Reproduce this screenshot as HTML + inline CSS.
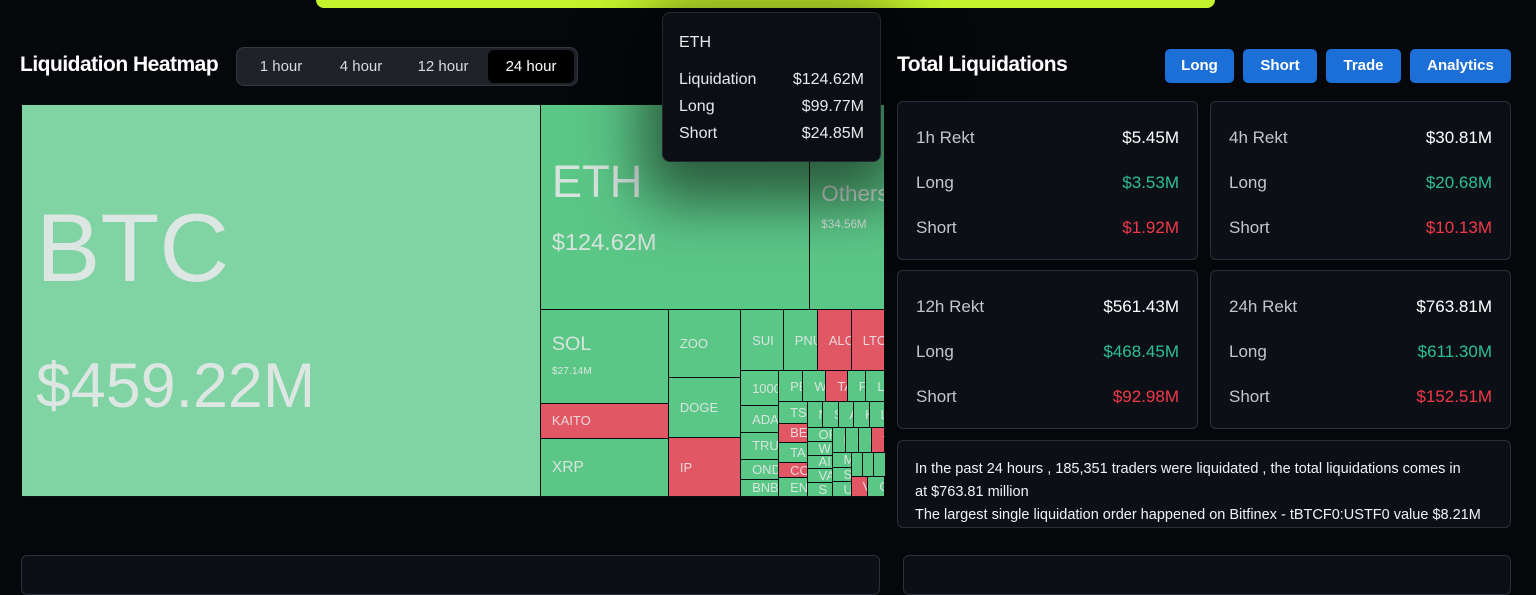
<!DOCTYPE html>
<html><head><meta charset="utf-8">
<style>
*{box-sizing:border-box;margin:0;padding:0}
body{width:1536px;height:562px;background:#05070b;font-family:"Liberation Sans",sans-serif;color:#e6e8eb;position:relative;overflow:hidden}
.abs{position:absolute}
.seg{left:236px;top:47px;width:342px;height:39px;background:#1f2229;border:1px solid #33373f;border-radius:8px}
.seg span{position:absolute;top:2px;height:33px;line-height:33px;font-size:15px;color:#d8dade;text-align:center}
.btn{top:49px;height:34px;line-height:34px;background:#1b6fd6;color:#fff;font-weight:bold;font-size:15px;text-align:center;border-radius:5px}
.card{background:#0c1016;border:1px solid #2b3038;border-radius:6px}
.row{position:absolute;left:18px;right:18px;font-size:17px;display:flex;justify-content:space-between}
.row .l{color:#c3c7cd}
.cell{position:absolute;border:1px solid #0a0c10;overflow:hidden;white-space:nowrap;display:flex;flex-direction:column;justify-content:center;color:rgba(232,232,235,.88)}
</style></head><body>
<div class="abs" style="left:316px;top:-10px;width:899px;height:18px;background:#c4f22c;border-radius:8px"></div>

<div class="abs" style="left:20px;top:53px;font-size:21px;font-weight:bold;letter-spacing:-0.5px;color:#fff">Liquidation Heatmap</div>
<div class="abs seg">
<span style="left:4px;width:80px">1 hour</span>
<span style="left:84px;width:80px">4 hour</span>
<span style="left:164px;width:84px">12 hour</span>
<span style="left:251px;width:86px;background:#000;border-radius:6px;color:#fff">24 hour</span>
</div>

<div class="abs" id="treemap" style="left:21px;top:104px;width:863px;height:392px"></div>

<div class="abs" style="left:662px;top:12px;width:219px;height:150px;background:#0b0e13;border:1px solid #23272e;border-radius:8px;box-shadow:0 20px 60px 20px rgba(0,0,0,.55);font-size:16px">
<div class="abs" style="left:16px;top:21px;color:#e6e8eb">ETH</div>
<div class="abs" style="left:16px;right:16px;top:58px;display:flex;justify-content:space-between"><span>Liquidation</span><span>$124.62M</span></div>
<div class="abs" style="left:16px;right:16px;top:85px;display:flex;justify-content:space-between"><span>Long</span><span>$99.77M</span></div>
<div class="abs" style="left:16px;right:16px;top:112px;display:flex;justify-content:space-between"><span>Short</span><span>$24.85M</span></div>
</div>

<div class="abs" style="left:897px;top:53px;font-size:21px;font-weight:bold;letter-spacing:-0.5px;color:#fff">Total Liquidations</div>
<div class="abs btn" style="left:1165px;width:69px">Long</div>
<div class="abs btn" style="left:1243px;width:74px">Short</div>
<div class="abs btn" style="left:1326px;width:75px">Trade</div>
<div class="abs btn" style="left:1410px;width:101px">Analytics</div>

<div class="abs card" style="left:897px;top:101px;width:301px;height:159px">
<div class="row" style="top:26px"><span class="l">1h Rekt</span><span style="color:#fff">$5.45M</span></div>
<div class="row" style="top:71px"><span class="l">Long</span><span style="color:#2ebf94">$3.53M</span></div>
<div class="row" style="top:116px"><span class="l">Short</span><span style="color:#f2394a">$1.92M</span></div>
</div>
<div class="abs card" style="left:1210px;top:101px;width:301px;height:159px">
<div class="row" style="top:26px"><span class="l">4h Rekt</span><span style="color:#fff">$30.81M</span></div>
<div class="row" style="top:71px"><span class="l">Long</span><span style="color:#2ebf94">$20.68M</span></div>
<div class="row" style="top:116px"><span class="l">Short</span><span style="color:#f2394a">$10.13M</span></div>
</div>
<div class="abs card" style="left:897px;top:270px;width:301px;height:159px">
<div class="row" style="top:26px"><span class="l">12h Rekt</span><span style="color:#fff">$561.43M</span></div>
<div class="row" style="top:71px"><span class="l">Long</span><span style="color:#2ebf94">$468.45M</span></div>
<div class="row" style="top:116px"><span class="l">Short</span><span style="color:#f2394a">$92.98M</span></div>
</div>
<div class="abs card" style="left:1210px;top:270px;width:301px;height:159px">
<div class="row" style="top:26px"><span class="l">24h Rekt</span><span style="color:#fff">$763.81M</span></div>
<div class="row" style="top:71px"><span class="l">Long</span><span style="color:#2ebf94">$611.30M</span></div>
<div class="row" style="top:116px"><span class="l">Short</span><span style="color:#f2394a">$152.51M</span></div>
</div>
<div class="abs card" style="left:897px;top:440px;width:614px;height:88px;font-size:14.5px;line-height:23px;padding:17px 0 0 17px;color:#f0f1f3">
In the past 24 hours , 185,351 traders were liquidated , the total liquidations comes in<br>at $763.81 million<br>The largest single liquidation order happened on Bitfinex - tBTCF0:USTF0 value $8.21M
</div>
<div class="abs card" style="left:21px;top:555px;width:859px;height:40px"></div>
<div class="abs card" style="left:903px;top:555px;width:608px;height:40px"></div>

<script>
const coinNames=["BTC","ETH","Others","SOL","KAITO","XRP","ZOO","DOGE","IP","SUI","PNUT","ALCH","LTC","1000PEPE","ADA","TRUMP","ONDO","BNB","PEOPLE","WIF","TAO","FARTCOIN","LINK","TST","BERA","TAI","COOKIE","ENA","NEAR","SHELL","AVAX","KAS","LDO","OP","WLD","AIXBT","VANA","S","HBAR","IO","MKR","TIA","MELANIA","SUIAI","UNI","XLM","DOT","AAVE","VINE","GRASS"];
const coinValues=[459.22,124.62,34.56,27.14,10.1,16.8,11.1,9.8,9.6,5.9,4.7,4.7,4.6,3.0,2.3,2.3,1.7,1.5,1.7,1.6,1.5,1.3,1.3,1.4,1.2,1.3,1.0,1.2,0.9,0.9,0.9,0.9,0.9,0.78,0.78,0.78,0.78,0.78,0.75,0.75,0.75,0.75,0.63,0.63,0.63,0.6,0.6,0.6,0.75,0.75];
const shortDominant=[0,0,0,0,1,0,0,0,1,0,0,1,1,0,0,0,0,0,0,0,1,0,0,0,1,0,1,0,0,0,0,0,0,0,0,0,0,0,0,0,0,1,0,0,0,0,0,0,1,0];
const displayValues={0:"$459.22M",1:"$124.62M",2:"$34.56M",3:"$27.14M"};
const hovered=0;
function r(a,b){const o=[];for(let i=a;i<=b;i++)o.push(i);return o;}
const tree={d:'h',c:[0,{d:'v',c:[{d:'h',c:[1,2]},{d:'h',c:[{d:'v',c:[3,4,5]},{d:'v',c:[6,7,8]},{d:'v',c:[{d:'h',c:r(9,12)},{d:'h',c:[{d:'v',c:r(13,17)},{d:'v',c:[{d:'h',c:r(18,22)},{d:'h',c:[{d:'v',c:r(23,27)},{d:'v',c:[{d:'h',c:r(28,32)},{d:'h',c:[{d:'v',c:r(33,37)},{d:'v',c:[{d:'h',c:r(38,41)},{d:'h',c:[{d:'v',c:r(42,44)},{d:'v',c:[{d:'h',c:r(45,47)},{d:'h',c:[48,49]}]}]}]}]}]}]}]}]}]}]}]}]};
function sum(n){return typeof n==='number'?coinValues[n]:n.c.reduce((s,c)=>s+sum(c),0);}
const root=document.getElementById('treemap');
function layout(n,x,y,w,h){
  if(typeof n==='number'){draw(n,x,y,w,h);return;}
  const t=sum(n);let off=0;
  n.c.forEach(c=>{const f=sum(c)/t;
    if(n.d==='h'){layout(c,x+off,y,w*f,h);off+=w*f;}
    else{layout(c,x,y+off,w,h*f);off+=h*f;}});
}
function draw(i,x,y,w,h){
  const d=document.createElement('div');
  d.className='cell';
  
  
  d.style.left=x+'px';d.style.top=y+'px';d.style.width=(w+1)+'px';d.style.height=(h+1)+'px';
  d.style.background=i===hovered?'#80d3a2':(shortDominant[i]?'#e25764':'#5bc787');
  const s=Math.sqrt(w*h);
  const fs=Math.max(13,0.18*s*(1+Math.max(0,s-110)/1800));
  d.style.paddingLeft=(s>300?14:11)+'px';
  if(s>300) d.style.paddingTop='18px';
  const lab=document.createElement('div');
  
  
  lab.style.fontSize=fs+'px';lab.style.lineHeight='1';
  lab.textContent=coinNames[i];d.appendChild(lab);
  if(displayValues[i]){
    const v=document.createElement('div');
    
    
    const vs=i===0?fs*0.65:fs*0.52;
    v.style.fontSize=vs+'px';v.style.lineHeight='1';v.style.marginTop=(i===0?fs*0.6:fs*0.6)+'px';
    v.textContent=displayValues[i];d.appendChild(v);
  }
  root.appendChild(d);
}
layout(tree,0,0,863,392);
</script>
</body></html>
